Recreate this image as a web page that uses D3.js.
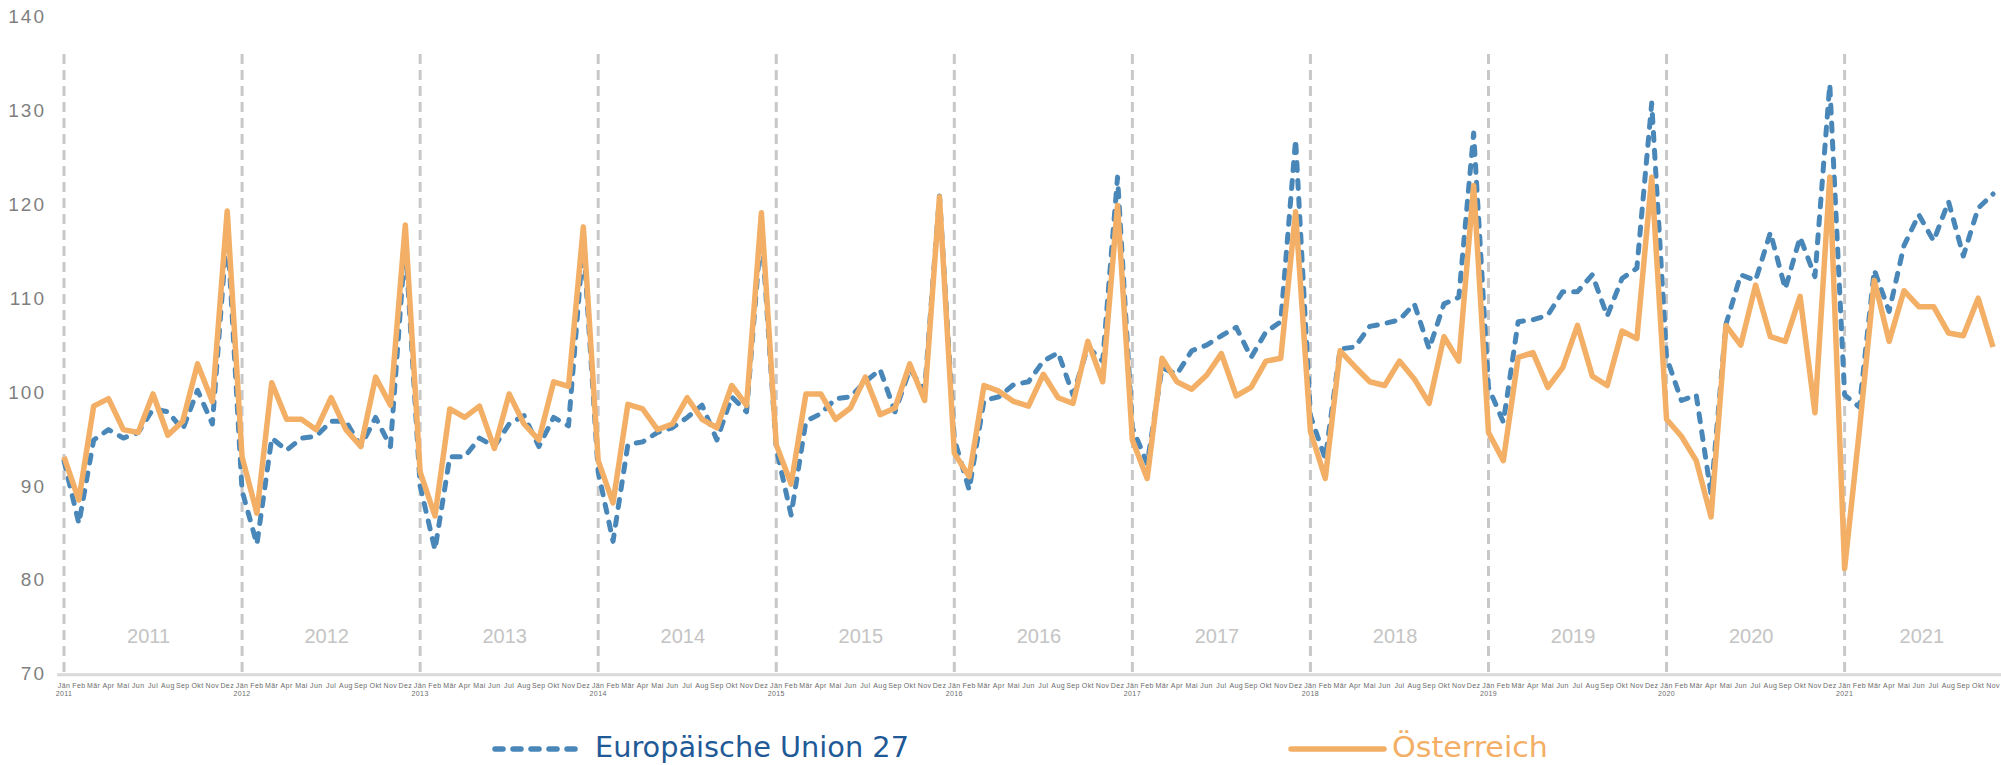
<!DOCTYPE html>
<html>
<head>
<meta charset="utf-8">
<script src="https://cdn.jsdelivr.net/npm/d3@7"></script>
<style>
  body { margin: 0; background: #fff; }
  svg { display: block; }
</style>
</head>
<body>
<div id="chart"></div>
<script>
// month labels (German) and years
const monthNames = ['Jän', 'Feb', 'Mär', 'Apr', 'Mai', 'Jun', 'Jul', 'Aug', 'Sep', 'Okt', 'Nov', 'Dez'];
const years = [2011, 2012, 2013, 2014, 2015, 2016, 2017, 2018, 2019, 2020, 2021];
const yTicks = [70, 80, 90, 100, 110, 120, 130, 140];

// Europäische Union 27, Jan 2011 - Nov 2021
const eu27 = [
  92.7, 86.0, 94.9, 96.0, 95.1, 95.7, 98.2, 97.9, 96.0, 100.2, 96.6, 117.5,
  89.5, 83.8, 95.1, 93.8, 95.1, 95.3, 96.9, 96.9, 94.2, 97.3, 94.2, 116.0,
  90.0, 83.2, 93.1, 93.1, 95.1, 94.2, 96.6, 97.5, 94.2, 97.3, 96.4, 116.0,
  91.5, 84.1, 94.4, 94.7, 95.7, 96.2, 97.3, 98.6, 94.9, 99.5, 97.9, 117.5,
  94.0, 86.9, 96.9, 97.7, 99.3, 99.5, 101.1, 102.4, 97.9, 102.4, 100.2, 120.9,
  95.0, 89.6, 99.1, 99.5, 100.8, 101.1, 103.3, 104.2, 99.7, 104.8, 103.3, 122.9,
  96.2, 92.4, 102.6, 101.9, 104.4, 105.0, 106.0, 106.9, 103.7, 106.4, 107.5, 126.9,
  97.5, 92.9, 104.6, 104.8, 107.0, 107.3, 107.7, 109.4, 104.6, 109.4, 110.1, 127.6,
  100.5, 96.8, 107.5, 107.7, 108.2, 110.7, 110.7, 112.5, 108.1, 112.1, 113.2, 130.8,
  103.7, 99.1, 99.7, 89.1, 107.2, 112.5, 111.9, 117.0, 111.0, 116.5, 112.3, 132.8,
  99.7, 98.4, 113.0, 108.6, 115.6, 118.9, 116.1, 120.3, 114.5, 119.6, 121.1,
];

// Österreich, Jan 2011 - Nov 2021
const austria = [
  93.1, 88.5, 98.5, 99.3, 96.0, 95.7, 99.8, 95.4, 96.9, 103.0, 99.0, 119.3,
  93.1, 87.1, 101.0, 97.1, 97.1, 96.0, 99.4, 96.0, 94.2, 101.6, 98.6, 117.8,
  91.5, 86.8, 98.2, 97.3, 98.5, 94.0, 99.8, 96.6, 94.9, 101.1, 100.6, 117.6,
  92.7, 88.2, 98.7, 98.2, 96.0, 96.6, 99.4, 97.1, 96.2, 100.7, 98.6, 119.1,
  94.4, 90.2, 99.8, 99.8, 97.1, 98.3, 101.6, 97.6, 98.3, 103.0, 99.1, 120.8,
  93.5, 91.0, 100.7, 100.1, 99.0, 98.5, 101.9, 99.4, 98.8, 105.4, 101.1, 119.9,
  94.9, 90.8, 103.6, 101.1, 100.3, 101.8, 104.1, 99.6, 100.5, 103.3, 103.6, 119.2,
  95.8, 90.8, 104.4, 102.7, 101.1, 100.7, 103.3, 101.4, 98.8, 105.9, 103.3, 122.0,
  95.7, 92.7, 103.7, 104.2, 100.5, 102.6, 107.1, 101.7, 100.7, 106.5, 105.7, 122.9,
  97.1, 95.3, 92.7, 86.7, 107.1, 105.0, 111.4, 105.9, 105.4, 110.2, 97.8, 122.9,
  81.2, 96.0, 111.9, 105.4, 110.8, 109.1, 109.1, 106.3, 106.0, 110.0, 104.8,
];

const width = 2001;
const height = 765;
const blue = '#4a87b9';
const orange = '#f2af65';

// one entry per month
const months = eu27.map((v, i) => ({
  i,
  year: years[0] + Math.floor(i / 12),
  month: monthNames[i % 12],
}));

const svg = d3.select('#chart')
  .append('svg')
  .attr('width', width)
  .attr('height', height);

const x = d3.scalePoint()
  .domain(months.map((d) => d.i))
  .range([64, 1993]);
const step = x.step();

const y = d3.scaleLinear()
  .domain([70, 140])
  .range([673.7, 16.6]);

// year separators
svg.append('g')
  .selectAll('line')
  .data(years)
  .join('line')
  .attr('x1', (d) => x((d - years[0]) * 12))
  .attr('x2', (d) => x((d - years[0]) * 12))
  .attr('y1', 54)
  .attr('y2', y(70))
  .attr('stroke', '#c8c8c8')
  .attr('stroke-width', 3)
  .attr('stroke-dasharray', '10,6');

// year names inside the plot, centred on the months of that year
const yearCenter = (yr) => {
  const idx = months.filter((m) => m.year === yr).map((m) => x(m.i));
  return (d3.min(idx) + d3.max(idx)) / 2 + 3;
};
svg.append('g')
  .selectAll('text')
  .data(years)
  .join('text')
  .attr('x', (d) => yearCenter(d))
  .attr('y', 636)
  .attr('dy', '0.35em')
  .attr('text-anchor', 'middle')
  .attr('fill', '#c4c4c4')
  .style('font', '20px "Liberation Sans", Arial, sans-serif')
  .text((d) => d);

// x axis line
svg.append('line')
  .attr('x1', 57)
  .attr('x2', width)
  .attr('y1', y(70) + 1)
  .attr('y2', y(70) + 1)
  .attr('stroke', '#d9d9d9')
  .attr('stroke-width', 3);

// month tick labels
const monthLabels = svg.append('g')
  .selectAll('text')
  .data(months)
  .join('text')
  .attr('x', (d) => x(d.i))
  .attr('y', 688)
  .attr('text-anchor', 'middle')
  .attr('fill', '#6b6b6b')
  .style('font', '7px "Liberation Sans", Arial, sans-serif')
  .style('letter-spacing', '0.4px');
monthLabels.append('tspan').text((d) => d.month);
monthLabels.filter((d) => d.i % 12 === 0)
  .append('tspan')
  .attr('x', (d) => x(d.i))
  .attr('dy', 8)
  .text((d) => d.year);

// y axis labels
svg.append('g')
  .selectAll('text')
  .data(yTicks)
  .join('text')
  .attr('x', 46)
  .attr('y', (d) => y(d))
  .attr('dy', '0.35em')
  .attr('text-anchor', 'end')
  .attr('fill', '#7f7f7f')
  .style('font', '19px "Liberation Sans", Arial, sans-serif')
  .style('letter-spacing', '2px')
  .text((d) => d);

// lines
const line = d3.line()
  .x((d, i) => x(i))
  .y((d) => y(d));

svg.append('path')
  .datum(eu27)
  .attr('fill', 'none')
  .attr('stroke', blue)
  .attr('stroke-width', 5)
  .attr('stroke-linecap', 'round')
  .attr('stroke-linejoin', 'round')
  .attr('stroke-dasharray', '8,10')
  .attr('d', line);

svg.append('path')
  .datum(austria)
  .attr('fill', 'none')
  .attr('stroke', orange)
  .attr('stroke-width', 5.5)
  .attr('stroke-linejoin', 'round')
  .attr('d', line);

// legend
const legend = [
  { name: 'Europäische Union 27', color: blue, text: '#1f5a97', dash: '8,10', x0: 495, x1: 583, tx: 595, tw: 314 },
  { name: 'Österreich', color: orange, text: '#f2af65', dash: null, x0: 1291, x1: 1384, tx: 1392, tw: 156 },
];
const lg = svg.append('g')
  .selectAll('g')
  .data(legend)
  .join('g');
lg.append('line')
  .attr('x1', (d) => d.x0)
  .attr('x2', (d) => d.x1)
  .attr('y1', 749)
  .attr('y2', 749)
  .attr('stroke', (d) => d.color)
  .attr('stroke-width', 5.5)
  .attr('stroke-linecap', 'round')
  .attr('stroke-dasharray', (d) => d.dash);
lg.append('text')
  .attr('x', (d) => d.tx)
  .attr('y', 757)
  .attr('fill', (d) => d.text)
  .attr('textLength', (d) => d.tw)
  .attr('lengthAdjust', 'spacingAndGlyphs')
  .style('font', '28px "Liberation Sans Narrow", "DejaVu Sans Condensed", sans-serif')
  .text((d) => d.name);
</script>
</body>
</html>
